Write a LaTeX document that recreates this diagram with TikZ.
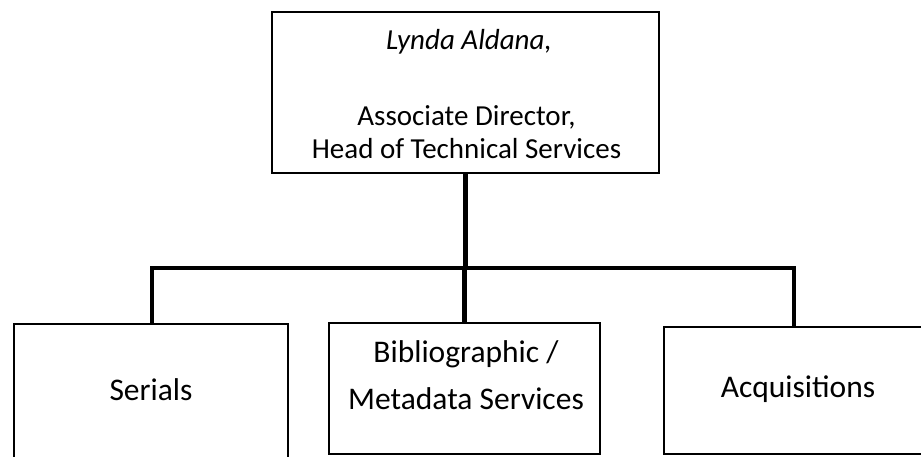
\documentclass[tikz,border=0pt]{standalone}
\usepackage{fontspec}
\setmainfont{Carlito}
\begin{document}
\begin{tikzpicture}[x=1pt,y=-1pt,
  box/.style={draw,line width=2.4pt,rectangle,inner sep=0pt},
  conn/.style={line width=4.5pt,line join=miter},
  txtop/.style={font=\fontsize{29}{33}\selectfont,align=center,inner sep=0pt},
  txbot/.style={font=\fontsize{31.5}{47}\selectfont,align=center,inner sep=0pt}]
\useasboundingbox[fill=white] (0,0) rectangle (921,456);
% boxes
\node[box,minimum width=387pt,minimum height=161pt] (top) at (465.5,92.5) {};
\node[box,minimum width=274pt,minimum height=136pt] (serials) at (151,392) {};
\node[box,minimum width=271pt,minimum height=131pt] (bib) at (464.5,388.5) {};
\node[box,minimum width=268pt,minimum height=127pt] (acq) at (798,390.5) {};
% texts
\node[txtop] (name) at (469,42) {\itshape Lynda Aldana,};
\node[txtop] (title) at (466.5,132) {Associate Director,\\Head of Technical Services};
\node[txbot] (serialsT) at (151,390) {Serials};
\node[txbot] (bibT) at (466,375) {Bibliographic /\\Metadata Services};
\node[txbot] (acqT) at (798,389) {Acquisitions};
% connectors
\coordinate (hl) at (152,268);
\coordinate (hr) at (794,268);
\draw[conn] (top.south) -- (top.south |- hl);
\draw[conn] (hl |- serials.north) -- (hl) -- (hr) -- (hr |- acq.north);
\draw[conn] (bib.north) -- (bib.north |- hl);
\end{tikzpicture}
\end{document}
